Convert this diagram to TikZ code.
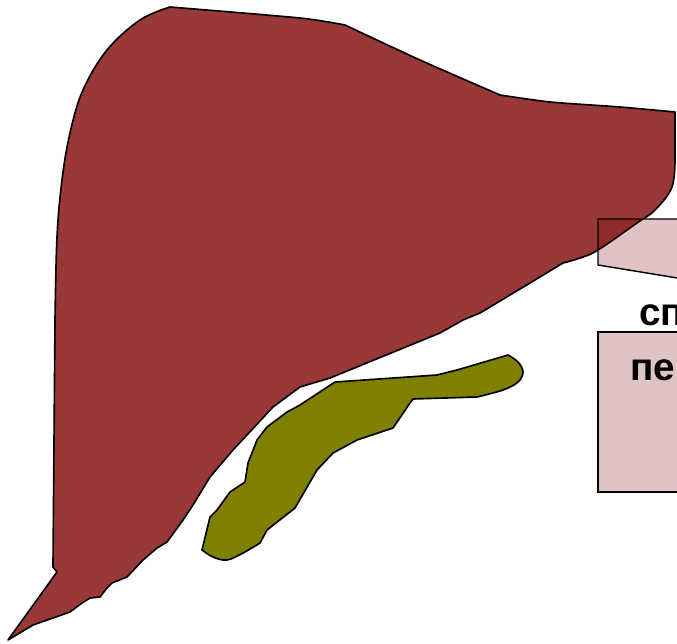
\documentclass[tikz,border=0pt]{standalone}
\usepackage{fontspec}
\setmainfont{Liberation Sans}
\usepackage{xcolor}
\usepackage{tikz}
\definecolor{liverRed}{HTML}{993838}
\definecolor{bileOlive}{HTML}{808000}
\definecolor{boxMaroon}{RGB}{122,0,0}

\begin{document}
\begin{tikzpicture}[
  x=0.03cm, y=-0.03cm,
  organ/.style={draw=black, line width=1.4pt, line join=round},
  panel/.style={draw=black, line width=1.2pt, fill=boxMaroon, fill opacity=0.23},
  lbl/.style={font=\fontsize{33}{36}\selectfont\bfseries, inner sep=0pt, anchor=base west},
]
\useasboundingbox (0,0) rectangle (677,643);
\clip (0,0) rectangle (677,643);

% Liver
\draw[organ, fill=liverRed]
  (53,567) -- (55,320)
  -- plot[smooth, tension=0.6] coordinates {(55,320) (57,237) (62,180) (70,133) (83,90) (107,50) (140,20) (170,7)}
  -- plot[smooth, tension=0.4] coordinates {(170,7) (300,18) (345,25)}
  -- plot[smooth, tension=0.5] coordinates {(345,25) (420,60) (500,95)}
  -- plot[smooth, tension=0.4] coordinates {(500,95) (550,102) (620,107) (675,112)}
  -- (675,157)
  -- plot[smooth, tension=0.6] coordinates {(675,157) (672,187) (655,210) (637,223) (598,250) (580,258) (563,263)}
  -- (530,283) -- (480,313) -- (463,320) -- (440,333) -- (330,378)
  -- (300,387) -- (273,407) -- (233,450) -- (210,477) -- (193,505)
  -- (183,520) -- (167,542) -- (157,548) -- (143,560) -- (127,577)
  -- (112,583) -- (107,588) -- (100,597) -- (90,598) -- (82,603)
  -- (70,612) -- (33,625) -- (8,640) -- (57,572) -- cycle;

% Gallbladder
\draw[organ, fill=bileOlive]
  (335,382) -- (437,375) -- (457,370) -- (508,355)
  -- plot[smooth, tension=0.6] coordinates {(508,355) (518,362) (523,372) (518,382) (503,390) (477,397)}
  -- (413,399) -- (410,403) -- (393,428) -- (357,440) -- (333,453)
  -- (317,470) -- (295,508) -- (267,530) -- (260,543)
  -- plot[smooth, tension=0.6] coordinates {(260,543) (243,553) (227,560) (213,557) (202,550)}
  -- (210,517) -- (217,510) -- (230,492) -- (245,482) -- (248,463)
  -- (257,440) -- (267,427) -- (287,412) -- (300,405) -- cycle;

% Label panels
\draw[panel] (598,219) -- (720,219) -- (720,285) -- (598,265) -- cycle;
\draw[panel] (598,332) -- (720,332) -- (720,492) -- (598,492) -- cycle;

% Labels
\node[lbl] (sp) at (639,325) {сп};
\node[lbl] (pe) at (630,380) {пе};
\end{tikzpicture}
\end{document}
